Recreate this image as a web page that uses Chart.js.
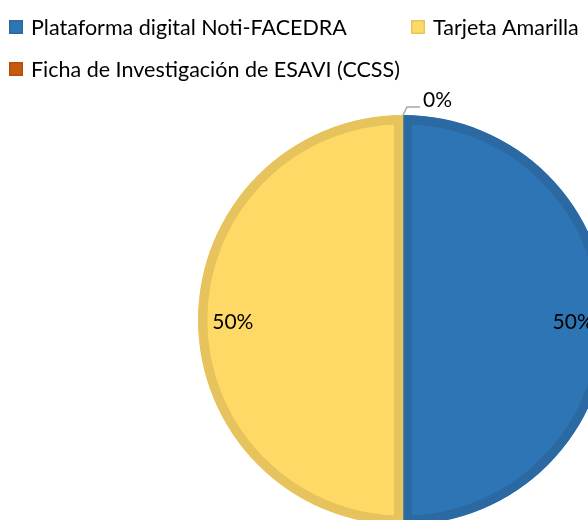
<!DOCTYPE html>
<html>
<head>
<meta charset="utf-8">
<script src="https://cdn.jsdelivr.net/npm/chart.js@4"></script>
<style>
  html, body { margin: 0; padding: 0; background: #fff; overflow: hidden; }
  #wrap { position: relative; width: 588px; height: 520px; overflow: hidden; }
  #myChartPie { position: absolute; left: 0; top: 0; }
</style>
</head>
<body>
<div id="wrap"><canvas id="myChartPie" width="620" height="525"></canvas></div>
<script>
const etiquetas = ['Plataforma digital Noti-FACEDRA', 'Tarjeta Amarilla', 'Ficha de Investigación de ESAVI (CCSS)'];
const valores = [50, 50, 0];
const colores = ['#2E75B6', '#FFD966', '#C55A11'];
const bordes = ['#2B69A3', '#E6C35C', '#B04F0F'];

const fuenteLeyenda = '21.5px Lato';
const fuenteDatos = '21px Lato';

// leyenda al estilo Excel: posiciones fijas
const posLeyenda = [[9, 20], [411, 20], [9, 62]];

const leyendaPlugin = {
  id: 'leyenda',
  afterDraw(chart) {
    const c = chart.ctx;
    c.save();
    c.font = fuenteLeyenda;
    c.textBaseline = 'middle';
    c.textAlign = 'left';
    etiquetas.forEach((txt, i) => {
      const [x, y] = posLeyenda[i];
      c.fillStyle = bordes[i];
      c.fillRect(x, y, 14, 14);
      c.fillStyle = colores[i];
      c.fillRect(x + 1.5, y + 1.5, 11, 11);
      c.fillStyle = '#000';
      c.fillText(txt, x + 22, y + 8);
    });
    c.restore();
  }
};

const etiquetasPlugin = {
  id: 'etiquetas',
  afterDatasetsDraw(chart) {
    const c = chart.ctx;
    const meta = chart.getDatasetMeta(0);
    const total = valores.reduce((a, b) => a + b, 0);
    c.save();
    c.font = fuenteDatos;
    c.fillStyle = '#000';
    meta.data.forEach((arc, i) => {
      const p = arc.getProps(['x', 'y', 'startAngle', 'endAngle', 'outerRadius'], true);
      const mid = (p.startAngle + p.endAngle) / 2;
      const pct = Math.round(valores[i] / total * 100) + '%';
      if (valores[i] > 0) {
        const r = p.outerRadius * 0.83;
        c.textAlign = 'center';
        c.textBaseline = 'middle';
        c.fillText(pct, p.x + Math.cos(mid) * r, p.y + Math.sin(mid) * r + 2);
      } else {
        const px = p.x + Math.cos(mid) * p.outerRadius;
        const py = p.y + Math.sin(mid) * p.outerRadius;
        c.strokeStyle = '#A6A6A6';
        c.lineWidth = 1.5;
        c.beginPath();
        c.moveTo(px, py);
        c.lineTo(px + 4, py - 8);
        c.lineTo(px + 17, py - 8);
        c.stroke();
        c.textAlign = 'left';
        c.textBaseline = 'alphabetic';
        c.fillText(pct, px + 20, py - 8);
      }
    });
    c.restore();
  }
};

const ctx = document.getElementById('myChartPie');

new Chart(ctx, {
  type: 'pie',
  data: {
    labels: etiquetas,
    datasets: [{
      data: valores,
      backgroundColor: colores,
      borderColor: bordes,
      borderWidth: 9,
      borderAlign: 'inner',
      radius: 205
    }]
  },
  options: {
    responsive: false,
    animation: false,
    layout: { padding: { left: 198, top: 115, right: 12, bottom: 0 } },
    plugins: {
      legend: { display: false },
      tooltip: { enabled: false }
    }
  },
  plugins: [leyendaPlugin, etiquetasPlugin]
});
</script>
</body>
</html>
